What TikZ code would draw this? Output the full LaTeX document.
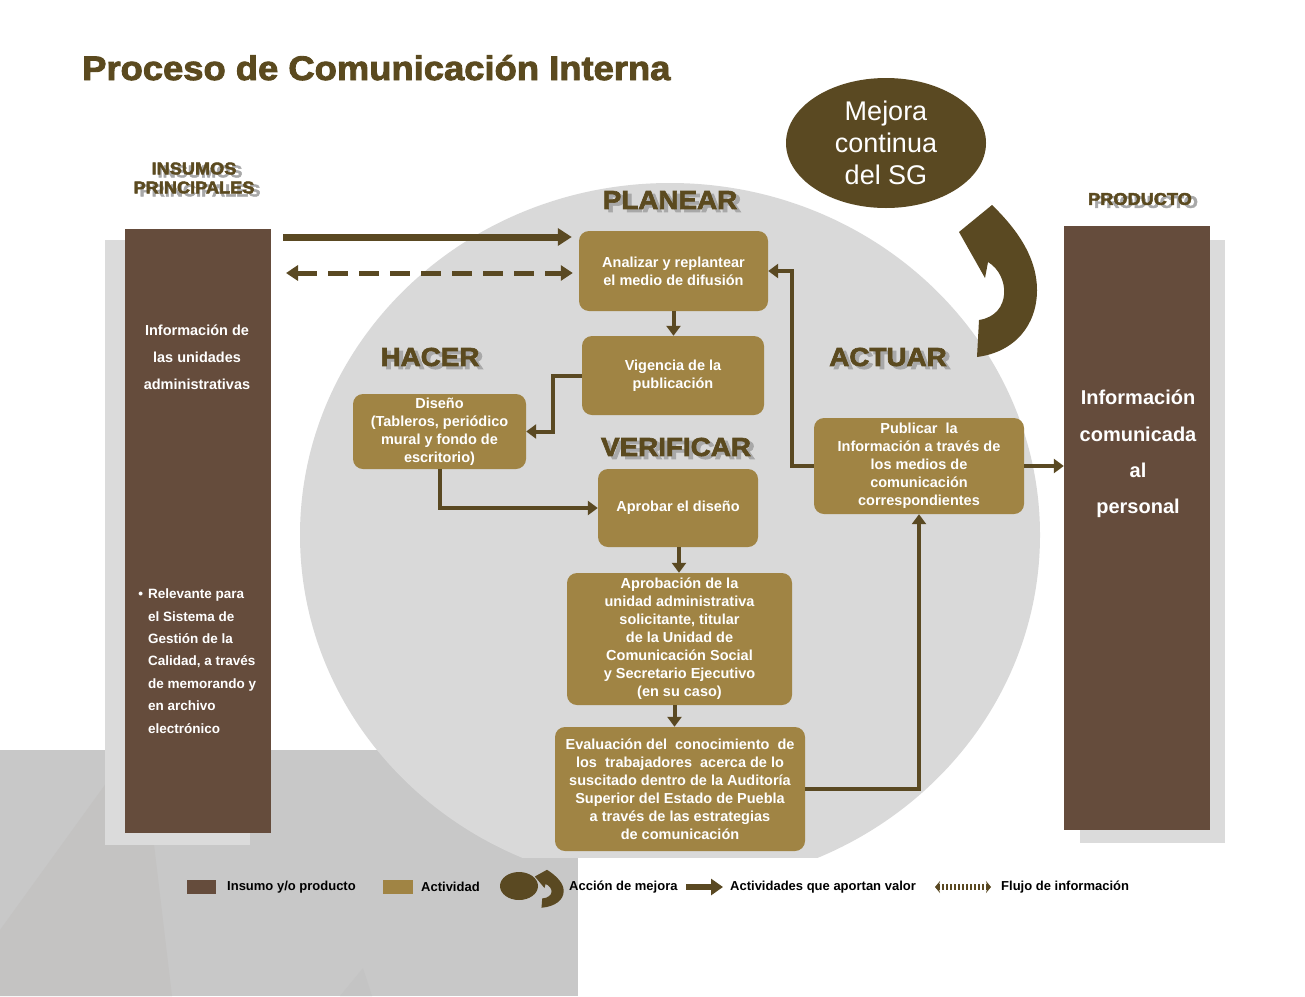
\documentclass[tikz,border=0pt]{standalone}
\usepackage{fontspec}
\setmainfont{Liberation Sans}
\newfontfamily\heavyf{Liberation Sans}[FakeBold=2.6,FakeStretch=1.07]
\usetikzlibrary{arrows.meta,shapes.geometric}
\definecolor{brn}{HTML}{654C3C}
\definecolor{acttan}{HTML}{A08444}
\definecolor{dk}{HTML}{5A4922}
\definecolor{ttl}{HTML}{5B4A1F}
\definecolor{bigell}{HTML}{D9D9D9}
\definecolor{bgg}{HTML}{C8C8C8}
\definecolor{bgd}{HTML}{C4C3C2}
\definecolor{shd}{HTML}{DBDBDB}
\definecolor{hshadow}{HTML}{A8A8A8}
\newcommand\mejoraarrow{(992,205) -- (959,232) -- (985,278) -- (988,262)
  .. controls (1010,275) and (1012,315) .. (979,320) -- (977,357)
  .. controls (1015,352) and (1037,325) .. (1037,290)
  .. controls (1037,260) and (1020,232) .. (992,205) -- cycle}
\tikzset{
  act/.style={fill=acttan, rounded corners=10pt, text=white, align=center, inner sep=0pt,
    font={\fontsize{14.5}{18}\selectfont\bfseries}},
  col/.style={fill=brn, inner sep=0pt, text=white, align=center},
  conn/.style={draw=dk, line width=4pt, -{Triangle[length=10pt,width=14pt]}},
  hdr/.style={text=ttl, inner sep=0pt, align=center,
    font={\heavyf\bfseries\fontsize{26}{26}\selectfont}},
  hdrs/.style={hdr, text=hshadow, xshift=4pt, yshift=-3pt},
  shdr/.style={text=ttl, inner sep=0pt, align=center,
    font={\heavyf\bfseries\fontsize{17}{19}\selectfont}},
  shdrs/.style={shdr, text=hshadow, xshift=6pt, yshift=-3pt},
  leg/.style={anchor=west, inner sep=0pt, text=black,
    font={\fontsize{13}{15}\selectfont\bfseries}}
}
\begin{document}
\begin{tikzpicture}[x=1pt,y=-1pt]
\useasboundingbox (0,0) rectangle (1305,996);
\fill[white] (0,0) rectangle (1305,996);
% background decoration
\fill[bgg] (0,750) rectangle (578,996);
\fill[bgd] (0,996) -- (0,930) -- (107,782) -- (153,836) -- (172,996) -- cycle;
\fill[black!23] (340,996) -- (363,968) -- (372,996) -- cycle;
\begin{scope}
  \clip (0,0) rectangle (1305,857);
  \fill[bigell] (670,535) ellipse [x radius=370, y radius=352];
\end{scope}
% columns
\fill[shd] (105,240) rectangle (250,845);
\fill[shd] (1080,240) rectangle (1225,843);
\node[col, minimum width=146pt, minimum height=604pt] (ins) at (198,531) {};
\node[col, minimum width=146pt, minimum height=604pt] (prod) at (1137,528) {};
\node[text=white, align=center, inner sep=0pt, font={\fontsize{14.5}{27}\selectfont\bfseries}] (insA) at (197,357)
  {Información de\\las unidades\\administrativas};
\node[text=white, align=left, anchor=west, inner sep=0pt, font={\fontsize{13.5}{22.4}\selectfont\bfseries}] (insB) at (148,661)
  {\llap{\textbullet\hspace{5pt}}Relevante para\\el Sistema de\\Gestión de la\\Calidad, a través\\de memorando y\\en archivo\\electrónico};
\node[text=white, align=center, inner sep=0pt, font={\fontsize{20}{36.3}\selectfont\bfseries}] (prodT) at (1138,454)
  {Información\\comunicada\\al\\personal};
% title and headers
\node[anchor=base west, inner sep=0pt, text=ttl, font={\heavyf\bfseries\fontsize{34}{34}\selectfont}] (title) at (82,80)
  {Proceso de Comunicación Interna};
\node[shdrs] (h1s) at (194,178) {INSUMOS\\PRINCIPALES};
\node[shdr] (h1) at (194,178) {INSUMOS\\PRINCIPALES};
\node[shdrs] (h2s) at (1140,199) {PRODUCTO};
\node[shdr] (h2) at (1140,199) {PRODUCTO};
\node[hdrs] (p1s) at (670,200) {PLANEAR};
\node[hdr] (p1) at (670,200) {PLANEAR};
\node[hdrs] (p2s) at (430,357) {HACER};
\node[hdr] (p2) at (430,357) {HACER};
\node[hdrs] (p3s) at (888,357) {ACTUAR};
\node[hdr] (p3) at (888,357) {ACTUAR};
\node[hdrs] (p4s) at (676,447) {VERIFICAR};
\node[hdr] (p4) at (676,447) {VERIFICAR};
% mejora continua
\node[ellipse, fill=dk, text=white, minimum width=200pt, minimum height=130pt, inner sep=0pt, align=center,
  font={\fontsize{27}{32}\selectfont}] (mej) at (886,143) {Mejora\\continua\\del SG};
\fill[dk] \mejoraarrow;
% activity boxes
\node[act, minimum width=189pt, minimum height=80pt] (ana) at (673.5,271) {Analizar y replantear\\el medio de difusión};
\node[act, minimum width=182pt, minimum height=79pt] (vig) at (673,375.5) {Vigencia de la\\publicación};
\node[act, minimum width=173pt, minimum height=75pt] (dis) at (439.5,431.5) {Diseño\\(Tableros, periódico\\mural y fondo de\\escritorio)};
\node[act, minimum width=160pt, minimum height=78pt] (apr) at (678,508) {Aprobar el diseño};
\node[act, minimum width=225pt, minimum height=132pt] (apn) at (679.5,639) {Aprobación de la\\unidad administrativa\\solicitante, titular\\de la Unidad de\\Comunicación Social\\y Secretario Ejecutivo\\(en su caso)};
\node[act, minimum width=250pt, minimum height=124pt] (eva) at (680,789) {Evaluación del\ \ conocimiento\ \ de\\los\ \ trabajadores\ \ acerca de lo\\suscitado dentro de la Auditoría\\Superior del Estado de Puebla\\a través de las estrategias\\de comunicación};
\node[act, minimum width=210pt, minimum height=96pt] (pub) at (919,466) {Publicar\ \ la\\Información a través de\\los medios de\\comunicación\\correspondientes};
% connectors
\coordinate (s1) at (283,237);
\coordinate (s2) at (286,273);
\draw[draw=dk, line width=7pt, -{Triangle[length=14pt,width=17pt]}] (s1) -- ([xshift=-7pt]ana.west |- s1);
\draw[draw=dk, line width=5pt, dash pattern=on 20pt off 11pt,
  {Triangle[length=12pt,width=15pt]}-{Triangle[length=12pt,width=15pt]}] (s2) -- ([xshift=-6pt]ana.west |- s2);
\draw[conn] (ana.south) -- (ana.south |- vig.north);
\draw[conn] (vig.west) -- ++(-29,0) |- (dis.east);
\draw[conn] (dis.south) |- (apr.west);
\draw[conn] ([xshift=1pt]apr.south) -- ([xshift=1pt]apr.south |- apn.north);
\draw[conn] ([xshift=-5pt]apn.south) -- ([xshift=-5pt]apn.south |- eva.north);
\draw[conn] (eva.east) -| (pub.south);
\draw[conn] (pub.west) -- ++(-22,0) |- (ana.east);
\draw[conn] (pub.east) -- (pub.east -| prod.west);
% legend
\fill[brn] (187,880) rectangle (216,894);
\node[leg] (l1) at (227,887) {Insumo y/o producto};
\fill[acttan] (383,880) rectangle (413,894);
\node[leg] (l2) at (421,887) {Actividad};
\node[ellipse, fill=dk, minimum width=38pt, minimum height=28pt, inner sep=0pt] (l3e) at (519,886) {};
\begin{scope}[shift={(180,818.5)}, xscale=0.37, yscale=0.25]
  \fill[dk] \mejoraarrow;
\end{scope}
\node[leg] (l3) at (569,887) {Acción de mejora};
\coordinate (l4a) at (686,887);
\coordinate (l4b) at (723,887);
\draw[draw=dk, line width=6pt, -{Triangle[length=12pt,width=16pt]}] (l4a) -- (l4b);
\node[leg] (l4) at (730,887) {Actividades que aportan valor};
\coordinate (l5a) at (935,887);
\coordinate (l5b) at (991,887);
\draw[draw=dk, line width=6pt, dash pattern=on 2pt off 2pt,
  {Stealth[length=5pt,width=12pt]}-{Stealth[length=5pt,width=12pt]}] (l5a) -- (l5b);
\node[leg] (l5) at (1001,887) {Flujo de información};
\end{tikzpicture}
\end{document}
